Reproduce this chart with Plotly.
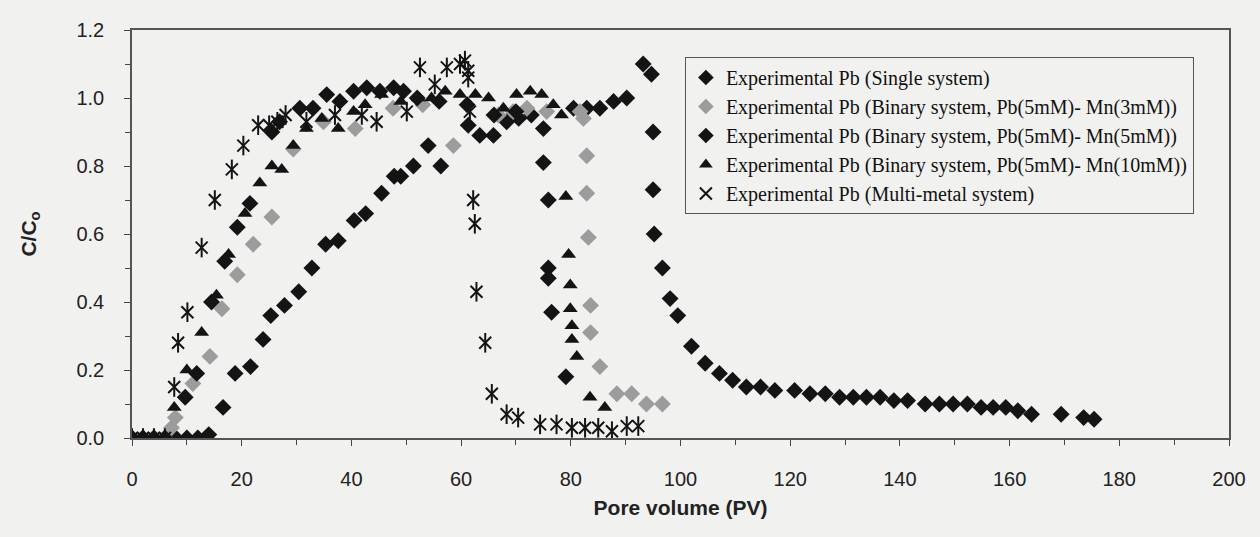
import plotly.graph_objects as go

# Breakthrough curves of Pb: relative concentration C/Co against pore volume

# Single system
single_x = [0, 2, 4, 6, 8, 10, 12, 14, 16.6, 18.8, 21.6, 23.9, 25.3, 27.8, 30.4, 32.8, 35.3, 37.6,
            40.5, 42.6, 45.5, 47.8, 49.0, 51.3, 54.0, 56.3, 61.3, 63.4, 65.9, 68.3, 70.5, 72.8,
            80.5, 82.9, 85.3, 87.8, 90.2, 93.2, 94.7, 95.0, 95.0, 95.2, 96.7, 98.1, 99.5, 102.0,
            104.5, 107.1, 109.5, 112.0, 114.6, 117.2, 120.8, 123.6, 126.4, 129.0, 131.5, 133.9,
            136.4, 138.9, 141.4, 144.6, 147.2, 149.7, 152.3, 154.8, 157.0, 159.3, 161.5, 164.0,
            169.4, 173.5, 175.4]
single_y = [0, 0, 0, 0, 0, 0, 0, 0.01, 0.09, 0.19, 0.21, 0.29, 0.36, 0.39, 0.43, 0.50, 0.57, 0.58,
            0.64, 0.66, 0.72, 0.77, 0.77, 0.80, 0.86, 0.80, 0.92, 0.89, 0.89, 0.93, 0.94, 0.95,
            0.97, 0.97, 0.97, 0.99, 1.00, 1.10, 1.07, 0.90, 0.73, 0.60, 0.50, 0.41, 0.36, 0.27,
            0.22, 0.19, 0.17, 0.15, 0.15, 0.14, 0.14, 0.13, 0.13, 0.12, 0.12, 0.12,
            0.12, 0.11, 0.11, 0.10, 0.10, 0.10, 0.10, 0.09, 0.09, 0.09, 0.08, 0.07,
            0.07, 0.06, 0.055]

# Binary system Pb(5mM) - Mn(3mM)
mn3_x = [0, 2, 4, 6, 7.2, 7.9, 11.1, 14.2, 16.4, 19.2, 22.1, 25.5, 29.4, 34.9, 40.7, 47.6,
         53.0, 58.6, 66.8, 69.5, 72.0, 75.6, 81.7, 82.3, 82.9, 82.9, 83.2, 83.6, 83.6, 85.3,
         88.4, 91.1, 93.8, 96.7]
mn3_y = [0, 0, 0, 0, 0.03, 0.06, 0.16, 0.24, 0.38, 0.48, 0.57, 0.65, 0.85, 0.93, 0.91, 0.97,
         0.98, 0.86, 0.95, 0.96, 0.97, 0.96, 0.96, 0.94, 0.83, 0.72, 0.59, 0.39, 0.31, 0.21,
         0.13, 0.13, 0.10, 0.10]

# Binary system Pb(5mM) - Mn(5mM)
mn5_x = [0, 2, 4, 6, 9.7, 11.8, 14.5, 16.9, 19.2, 21.5, 25.5, 26.9, 30.6, 33.0, 35.5, 37.9,
         40.4, 42.8, 45.2, 47.7, 49.5, 52.0, 56.0, 61.1, 66.0, 70.0, 75.0, 75.0, 75.9, 75.9,
         75.9, 76.5, 79.1]
mn5_y = [0, 0, 0, 0, 0.12, 0.19, 0.40, 0.52, 0.62, 0.69, 0.90, 0.93, 0.97, 0.97, 1.01, 0.99,
         1.02, 1.03, 1.02, 1.03, 1.02, 1.00, 0.99, 0.98, 0.95, 0.96, 0.91, 0.81, 0.70, 0.50,
         0.47, 0.37, 0.18]

# Binary system Pb(5mM) - Mn(10mM)
mn10_x = [0, 2, 4, 6, 7.7, 10.0, 12.7, 15.4, 17.6, 20.6, 23.3, 25.5, 27.3, 29.4, 31.8, 34.6,
          37.6, 40.4, 42.5, 45.5, 49.0, 52.2, 54.6, 57.1, 59.8, 62.6, 65.0, 67.7, 70.1, 72.6,
          74.7, 76.8, 78.3, 79.1, 79.6, 79.9, 79.9, 80.2, 80.2, 81.1, 83.5, 86.2]
mn10_y = [0, 0, 0, 0, 0.09, 0.20, 0.31, 0.42, 0.54, 0.66, 0.75, 0.80, 0.79, 0.86, 0.91, 0.94,
          0.91, 0.96, 0.98, 1.01, 0.99, 1.00, 1.00, 1.02, 1.01, 1.01, 1.00, 0.97, 1.01, 1.02,
          1.01, 0.98, 0.95, 0.71, 0.54, 0.45, 0.38, 0.33, 0.29, 0.24, 0.12, 0.09]

# Multi-metal system
multi_x = [0, 2, 4, 6, 7.7, 8.4, 10.1, 12.7, 15.1, 18.2, 20.3, 23.0, 25.0, 26.5, 28.0, 31.8,
           37.0, 41.9, 44.6, 50.1, 52.5, 55.2, 57.4, 59.8, 60.7, 61.3, 61.3, 61.6, 62.2, 62.5,
           62.8, 64.4, 65.6, 68.3, 70.4, 74.4, 77.4, 80.2, 82.6, 85.0, 87.5, 90.2, 92.3]
multi_y = [0, 0, 0, 0, 0.15, 0.28, 0.37, 0.56, 0.70, 0.79, 0.86, 0.92, 0.92, 0.93, 0.95, 0.93,
           0.95, 0.95, 0.93, 0.96, 1.09, 1.04, 1.09, 1.10, 1.11, 1.08, 1.06, 0.96, 0.70, 0.63,
           0.43, 0.28, 0.13, 0.07, 0.06, 0.04, 0.04, 0.03, 0.03, 0.03, 0.02, 0.035, 0.035]

names = [
    "Experimental Pb (Single system)",
    "Experimental Pb (Binary system, Pb(5mM)- Mn(3mM))",
    "Experimental Pb (Binary system, Pb(5mM)- Mn(5mM))",
    "Experimental Pb (Binary system, Pb(5mM)- Mn(10mM))",
    "Experimental Pb (Multi-metal system)",
]

BLACK = "#141414"
GRAY = "#9c9c9c"
BG = "#f1f1ef"

fig = go.Figure()

fig.add_trace(go.Scatter(x=single_x, y=single_y, mode="markers", name=names[0], legendgroup="g0",
                         marker=dict(symbol="diamond", size=13, color=BLACK)))
fig.add_trace(go.Scatter(x=mn3_x, y=mn3_y, mode="markers", name=names[1], legendgroup="g1",
                         marker=dict(symbol="diamond", size=13, color=GRAY)))
fig.add_trace(go.Scatter(x=mn5_x, y=mn5_y, mode="markers", name=names[2], legendgroup="g2",
                         marker=dict(symbol="diamond", size=13, color=BLACK)))
fig.add_trace(go.Scatter(x=mn10_x, y=mn10_y, mode="markers", name=names[3], legendgroup="g3",
                         marker=dict(symbol="triangle-up", size=13, color=BLACK)))
# six-armed star: an "x" plus a vertical stroke
fig.add_trace(go.Scatter(x=multi_x, y=multi_y, mode="markers", name=names[4], legendgroup="g4",
                         marker=dict(symbol="x-thin-open", size=12, color=BLACK,
                                     line=dict(width=2, color=BLACK))))
fig.add_trace(go.Scatter(x=multi_x, y=multi_y, mode="markers", showlegend=False, legendgroup="g4",
                         marker=dict(symbol="line-ns-open", size=14, color=BLACK,
                                     line=dict(width=2, color=BLACK))))

axis_font = dict(family="Liberation Sans, Arial, sans-serif", size=20, color="#222222")
title_font = dict(family="Liberation Sans, Arial, sans-serif", size=21, color="#222222")

fig.update_layout(
    width=1260, height=537,
    margin=dict(l=132, r=31, t=30, b=99),
    paper_bgcolor=BG, plot_bgcolor=BG,
    showlegend=True,
    legend=dict(
        x=0.504, y=0.934, xanchor="left", yanchor="top",
        bgcolor=BG, bordercolor="#555555", borderwidth=1,
        font=dict(family="Liberation Serif, Times New Roman, serif", size=20, color="#111111"),
        tracegroupgap=0, itemwidth=30, itemsizing="constant",
    ),
    xaxis=dict(
        range=[0, 200], tickmode="linear", tick0=0, dtick=20,
        ticks="outside", ticklen=6, tickcolor="#444444", tickwidth=1,
        minor=dict(dtick=10, ticks="outside", ticklen=5, tickcolor="#444444"),
        showline=True, linecolor="#555555", linewidth=1.5, mirror=True,
        showgrid=False, zeroline=False,
        tickfont=axis_font, ticklabelstandoff=16,
        title=dict(text="<b>Pore volume (PV)</b>", standoff=12, font=title_font),
    ),
    yaxis=dict(
        range=[0, 1.2], tickmode="linear", tick0=0, dtick=0.2, tickformat=".1f",
        ticks="outside", ticklen=6, tickcolor="#444444", tickwidth=1,
        minor=dict(dtick=0.1, ticks="outside", ticklen=5, tickcolor="#444444"),
        showline=True, linecolor="#555555", linewidth=1.5, mirror=True,
        showgrid=False, zeroline=False,
        tickfont=axis_font, ticklabelstandoff=16,
        title=dict(text="<b>C/C<sub>o</sub></b>", standoff=34, font=title_font),
    ),
)

fig.write_html("out.html")
